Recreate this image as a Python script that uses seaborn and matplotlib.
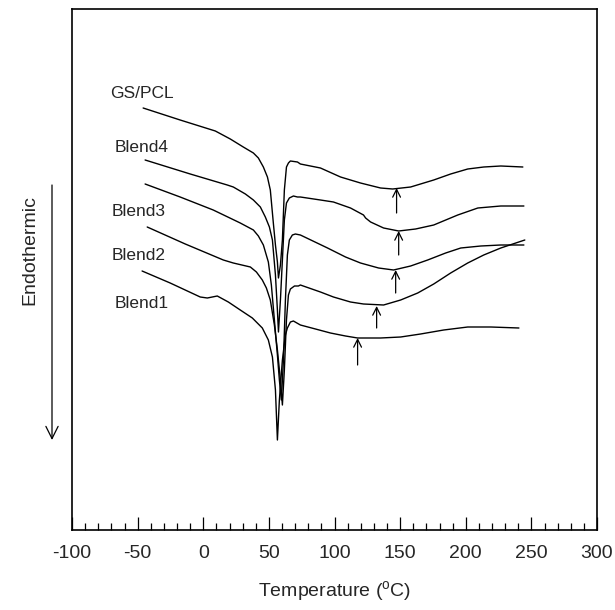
import matplotlib
matplotlib.use("Agg")
import matplotlib.pyplot as plt
import numpy as np
import pandas as pd
import seaborn as sns

########### DATA ###########
# temperature (C) and DSC signal (arbitrary units, larger = higher on plot)
gs_T = [-45.8, -17.6, 9.2, 20.6, 30.5, 38.2, 42.0, 45.8, 48.9, 51.1, 53.4, 55.0, 56.5, 57.3,
        58.8, 60.3, 61.8, 63.4, 64.9, 66.4, 71.8, 74.0, 89.3, 104.6, 119.8, 135.1, 144.3,
        158.0, 175.6, 188.5, 201.5, 213.7, 226.7, 243.5]
gs_S = [422, 410, 399, 391, 383, 377, 372, 363, 353, 340, 307, 285, 268, 252,
        265, 290, 340, 363, 367, 369, 368, 366, 362, 353, 347, 342, 341,
        343, 350, 356, 361, 363, 364, 363]

b4_T = [-44.3, -9.9, 18.3, 22.9, 32.1, 38.2, 43.5, 47.3, 50.4, 52.7, 55.0, 56.5, 57.3,
        58.8, 60.3, 61.8, 63.4, 65.6, 68.7, 71.8, 74.0, 89.3, 99.2, 112.2, 122.1, 123.7,
        127.5, 137.4, 148.9, 161.8, 175.6, 193.9, 209.2, 226.7, 244.3]
b4_S = [370, 356, 345, 343, 336, 330, 323, 313, 303, 290, 255, 220, 198,
        230, 270, 310, 327, 332, 334, 333, 333, 330, 328, 322, 315, 312,
        308, 302, 299, 301, 305, 315, 322, 324, 324]

b3_T = [-44.3, -17.6, 7.6, 28.2, 38.2, 42.0, 45.8, 49.6, 51.9, 54.2, 56.5, 58.0, 59.5,
        61.1, 62.6, 64.1, 65.6, 67.9, 70.2, 74.0, 94.7, 108.4, 119.8, 133.6, 145.0,
        158.0, 171.0, 184.7, 196.2, 211.5, 226.7, 244.3]
b3_S = [346, 333, 320, 307, 300, 294, 285, 268, 245, 210, 175, 150, 130,
        170, 230, 275, 290, 295, 296, 295, 282, 273, 267, 262, 260,
        264, 270, 277, 282, 284, 285, 285]

b2_T = [-42.7, -13.7, 15.3, 22.9, 35.9, 40.5, 45.0, 48.1, 51.1, 54.2, 56.5, 58.8, 60.3,
        61.8, 63.4, 64.9, 66.4, 69.5, 72.5, 74.0, 89.3, 99.2, 112.2, 122.1, 137.4, 150.4,
        163.4, 175.6, 188.5, 201.5, 213.7, 226.7, 245.0]
b2_S = [303, 286, 270, 267, 263, 258, 250, 242, 230, 205, 180, 150, 125,
        160, 210, 235, 241, 244, 244, 245, 238, 233, 228, 226, 225, 230,
        237, 246, 257, 267, 275, 282, 290]

b1_T = [-46.6, -25.2, -2.3, 3.1, 10.7, 19.1, 28.2, 37.4, 45.0, 49.6, 52.7, 55.0, 56.5,
        58.0, 60.3, 62.6, 64.1, 66.4, 68.7, 74.0, 85.5, 96.9, 108.4, 117.6, 135.1, 150.4,
        165.6, 183.2, 201.5, 219.1, 240.5]
b1_S = [259, 247, 233, 232, 234, 228, 220, 212, 202, 190, 173, 140, 90,
        130, 170, 195, 202, 208, 209, 205, 201, 197, 194, 192, 192, 193,
        196, 200, 203, 203, 202]

names = ['GS/PCL', 'Blend4', 'Blend3', 'Blend2', 'Blend1']
label_T = [-71.0, -67.2, -69.5, -69.5, -67.2]
label_S = [437, 383, 319, 275, 227]

# arrows marking transitions: x, tip, tail
arrow_T = [147.3, 148.9, 146.6, 132.1, 117.6]
arrow_tip = [342, 299, 260, 224, 192]
arrow_tail = [317, 275, 237, 202, 165]

xticks = [-100, -50, 0, 50, 100, 150, 200, 250, 300]

############### PLOTTING ##################
sns.set_style("white")
plt.rcParams['font.family'] = ['Liberation Sans', 'DejaVu Sans']
plt.rcParams['axes.unicode_minus'] = False
plt.rcParams['mathtext.fontset'] = 'custom'
plt.rcParams['mathtext.rm'] = 'Liberation Sans'

fig = plt.figure(figsize=(6.15, 6.1), dpi=100)
ax = fig.add_axes([72/615, 1-530/610, 525/615, 521/610])

curves = [(gs_T, gs_S), (b4_T, b4_S), (b3_T, b3_S), (b2_T, b2_S), (b1_T, b1_S)]
for (T, S), nm in zip(curves, names):
    d = pd.DataFrame({'T': T, 'S': S})
    sns.lineplot(data=d, x='T', y='S', sort=False, estimator=None, color='k', linewidth=1.0, ax=ax)

for nm, xt, yt in zip(names, label_T, label_S):
    ax.text(xt, yt, nm, fontsize=12.5, ha='left', va='center')

for xa, yt, yb in zip(arrow_T, arrow_tip, arrow_tail):
    ax.annotate('', xy=(xa, yt), xytext=(xa, yb),
                arrowprops=dict(arrowstyle='->', color='k', lw=0.9, shrinkA=0, shrinkB=0,
                                mutation_scale=14))

ax.set_xlim(-100, 300)
ax.set_ylim(0, 521)
ax.set_xticks(xticks)
ax.set_xticks(np.arange(-90, 300, 10), minor=True)
ax.set_yticks([])
ax.tick_params(axis='x', which='major', bottom=True, direction='in', length=9.5, width=0.9,
               pad=11, labelsize=14, color='k')
ax.tick_params(axis='x', which='minor', bottom=True, direction='in', length=5, width=0.9, color='k')
ax.set_xlabel('Temperature ($^{\\mathrm{o}}$C)', fontsize=14, labelpad=12)
ax.set_ylabel('')
for sp in ax.spines.values():
    sp.set_visible(True)
    sp.set_color('k')
    sp.set_linewidth(1.2)

# endothermic direction marker, outside the axes
fig.text(30/615, 1-250/610, 'Endothermic', rotation=90, fontsize=14, ha='center', va='center')
ax.annotate('', xy=(52/615, 1-440/610), xytext=(52/615, 1-185/610),
            xycoords='figure fraction', textcoords='figure fraction',
            arrowprops=dict(arrowstyle='->', color='k', lw=0.9, shrinkA=0, shrinkB=0,
                            mutation_scale=22))

plt.savefig('out.png', dpi=100)
